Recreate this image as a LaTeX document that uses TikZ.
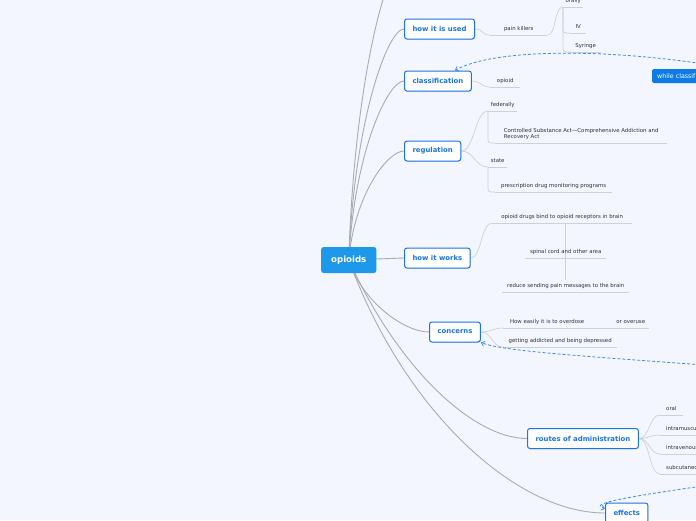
\documentclass[tikz,border=0pt]{standalone}
\usepackage{fontspec}
\setmainfont{DejaVu Sans}
\usetikzlibrary{arrows.meta,shadows,calc}
\definecolor{bgc}{RGB}{243,246,254}
\definecolor{tblue}{RGB}{28,116,226}
\definecolor{cblue}{RGB}{30,152,232}
\definecolor{wcfill}{RGB}{12,124,228}
\definecolor{maingray}{RGB}{172,172,176}
\definecolor{subgray}{RGB}{205,209,218}
\definecolor{subtext}{RGB}{50,50,55}
\definecolor{relblue}{RGB}{60,140,236}
\pgfdeclarelayer{bgfill}
\pgfdeclarelayer{edges}
\pgfsetlayers{bgfill,edges,main}
\begin{document}
\begin{tikzpicture}[x=1pt,y=-1pt,
  central/.style={fill=cblue,text=white,font=\bfseries\fontsize{8.6}{10}\selectfont,
    rounded corners=2.5pt,minimum height=26pt,inner xsep=10pt,inner ysep=0pt},
  topic/.style={draw=tblue,line width=1pt,fill=white,rounded corners=2.5pt,text=tblue,
    font=\bfseries\fontsize{6.9}{8}\selectfont,inner xsep=8pt,inner ysep=0pt,minimum height=20pt,
    drop shadow={shadow xshift=0.6pt,shadow yshift=-0.9pt,opacity=0.18}},
  sub/.style={font=\fontsize{5.4}{6.4}\selectfont,text=subtext,inner sep=0pt,
    minimum height=12pt,anchor=south west},
  ul/.style={draw=subgray,line width=0.7pt},
  subedge/.style={draw=subgray,line width=0.7pt},
  mainedge/.style={draw=maingray,line width=0.9pt},
  rel/.style={draw=relblue,line width=0.8pt,dash pattern=on 3pt off 2pt,
    -{Straight Barb[length=3pt,width=5pt]}},
  relnode/.style={fill=wcfill,text=white,font=\fontsize{6.3}{7.5}\selectfont,rounded corners=1.5pt,
    minimum height=14pt,inner xsep=5pt,inner ysep=0pt,text width=60pt,align=left}
]
\useasboundingbox (0,0) rectangle (696,520);
\begin{pgfonlayer}{bgfill}
\fill[bgc] (0,0) rectangle (696,520);
\end{pgfonlayer}

% central and main topics
\node[central,anchor=west] (opioids) at (321,260) {opioids};
\node[topic,anchor=west] (used) at (404,29) {how it is used};
\node[topic,anchor=west] (class) at (404,81) {classification};
\node[topic,anchor=west] (reg) at (404,151) {regulation};
\node[topic,anchor=west] (works) at (404,258) {how it works};
\node[topic,anchor=west] (concerns) at (429,332) {concerns};
\node[topic,anchor=west] (routes) at (527,438.5) {routes of administration};
\node[topic,anchor=west] (effects) at (605,513) {effects};
\coordinate (offtop) at (404,-40);

% subtopics
\node[sub,minimum width=57pt] (pk) at (490,35) {pain killers};
\node[sub,minimum width=20pt] (orally) at (563,7) {orally};
\node[sub,minimum width=16pt] (iv) at (570,33) {IV};
\node[sub,minimum width=31pt] (syr) at (570,52) {Syringe};
\node[sub,minimum width=30pt] (opd) at (490,87) {opioid};
\node[sub,minimum width=29pt] (fed) at (488,111) {federally};
\node[sub,minimum width=172pt,minimum height=18pt,align=left] (csa) at (495,143) {Controlled Substance Act---Comprehensive Addiction and\\Recovery Act};
\node[sub,minimum width=19pt] (state) at (488,167) {state};
\node[sub,minimum width=117pt] (pdmp) at (495,192) {prescription drug monitoring programs};
\node[sub,minimum width=140pt] (odb) at (492,223) {opioid drugs bind to opioid receptors in brain};
\node[sub,minimum width=81pt] (spc) at (525,258) {spinal cord and other area};
\node[sub,minimum width=127pt] (rsp) at (502,292) {reduce sending pain messages to the brain};
\node[sub,minimum width=88pt] (hei) at (503,328) {How easily it is to overdose};
\node[sub,minimum width=37pt] (ovu) at (612,328) {or overuse};
\node[sub,minimum width=114pt] (gad) at (503,347) {getting addicted and being depressed};
\node[sub,inner xsep=6pt] (oral) at (660,415) {oral};
\node[sub,inner xsep=6pt] (im) at (660,435) {intramuscular};
\node[sub,inner xsep=6pt] (ivn) at (660,454) {intravenous};
\node[sub,inner xsep=6pt] (sc) at (660,474) {subcutaneous};

% relationship label
\node[relnode,anchor=west] (wc) at (652,76) {while classif};

\begin{pgfonlayer}{edges}
% main connectors
\draw[mainedge] (opioids.center) .. controls +(5.5,-180) and +(-16.5,0) .. (offtop);
\draw[mainedge] (opioids.center) .. controls +(5.5,-139) and +(-16.5,0) .. (used.west);
\draw[mainedge] (opioids.center) .. controls +(5.5,-107) and +(-16.5,0) .. (class.west);
\draw[mainedge] (opioids.center) .. controls +(5.5,-65) and +(-16.5,0) .. (reg.west);
\draw[mainedge] (opioids.center) -- (works.west);
\draw[mainedge] (opioids.center) .. controls +(14,43) and +(-24,0) .. (concerns.west);
\draw[mainedge] (opioids.center) .. controls +(50,110) and +(-53,0) .. (routes.west);
\draw[mainedge] (opioids.center) .. controls +(55,150) and +(-90,0) .. (effects.west);

% underlines
\foreach \n in {pk,orally,iv,syr,opd,fed,csa,state,pdmp,odb,spc,rsp,hei,ovu,gad,oral,im,ivn,sc}
  \draw[ul] (\n.south west) -- (\n.south east);

% sub connectors
\draw[subedge] (used.east) .. controls +(9,0) and +(-9,0) .. (pk.south west);
\draw[subedge] (pk.south east) .. controls +(9,0) and +(-9,0) .. (orally.south west);
\draw[subedge] (orally.south west) -- ($(orally.south west |- iv.south west)+(0,-6)$) .. controls (orally.south west |- iv.south west) .. (iv.south west);
\draw[subedge] (orally.south west) -- ($(orally.south west |- syr.south west)+(0,-6)$) .. controls (orally.south west |- syr.south west) .. (syr.south west);
\draw[subedge] (class.east) .. controls +(9,0) and +(-9,0) .. (opd.south west);
\draw[subedge] (reg.east) .. controls +(13,0) and +(-13,0) .. (fed.south west);
\draw[subedge] (reg.east) .. controls +(13,0) and +(-13,0) .. (state.south west);
\draw[subedge] (fed.south west) -- ($(fed.south west |- csa.south west)+(0,-6)$) .. controls (fed.south west |- csa.south west) .. (csa.south west);
\draw[subedge] (state.south west) -- ($(state.south west |- pdmp.south west)+(0,-6)$) .. controls (state.south west |- pdmp.south west) .. (pdmp.south west);
\draw[subedge] (works.east) .. controls +(11,0) and +(-11,0) .. (odb.south west);
\draw[subedge] (spc.south |- odb.south) -- (spc.south);
\draw[subedge] (spc.south) -- (rsp.north);
\draw[subedge] (concerns.east) .. controls +(11,0) and +(-11,0) .. (hei.south west);
\draw[subedge] (concerns.east) .. controls +(11,0) and +(-11,0) .. (gad.south west);
\draw[subedge] (hei.south east) -- (ovu.south west);
\draw[subedge] (routes.east) .. controls +(11,0) and +(-11,0) .. (oral.south west);
\draw[subedge] (routes.east) .. controls +(11,0) and +(-11,0) .. (im.south west);
\draw[subedge] (routes.east) .. controls +(11,0) and +(-11,0) .. (ivn.south west);
\draw[subedge] (routes.east) .. controls +(11,0) and +(-11,0) .. (sc.south west);
\end{pgfonlayer}

% relationships
\coordinate (r1) at (730,68);
\coordinate (r2) at (730,367);
\coordinate (r3) at (730,482);
\draw[rel] (r1) .. controls (600,46) and (490,50) .. ($(class.north)+(17,0)$);
\draw[rel] (r2) .. controls (600,357) and (505,352) .. (concerns.south east);
\draw[rel] (r3) .. controls (640,495) and (585,503) .. ($(effects.north west)+(0,6)$);
\end{tikzpicture}
\end{document}
